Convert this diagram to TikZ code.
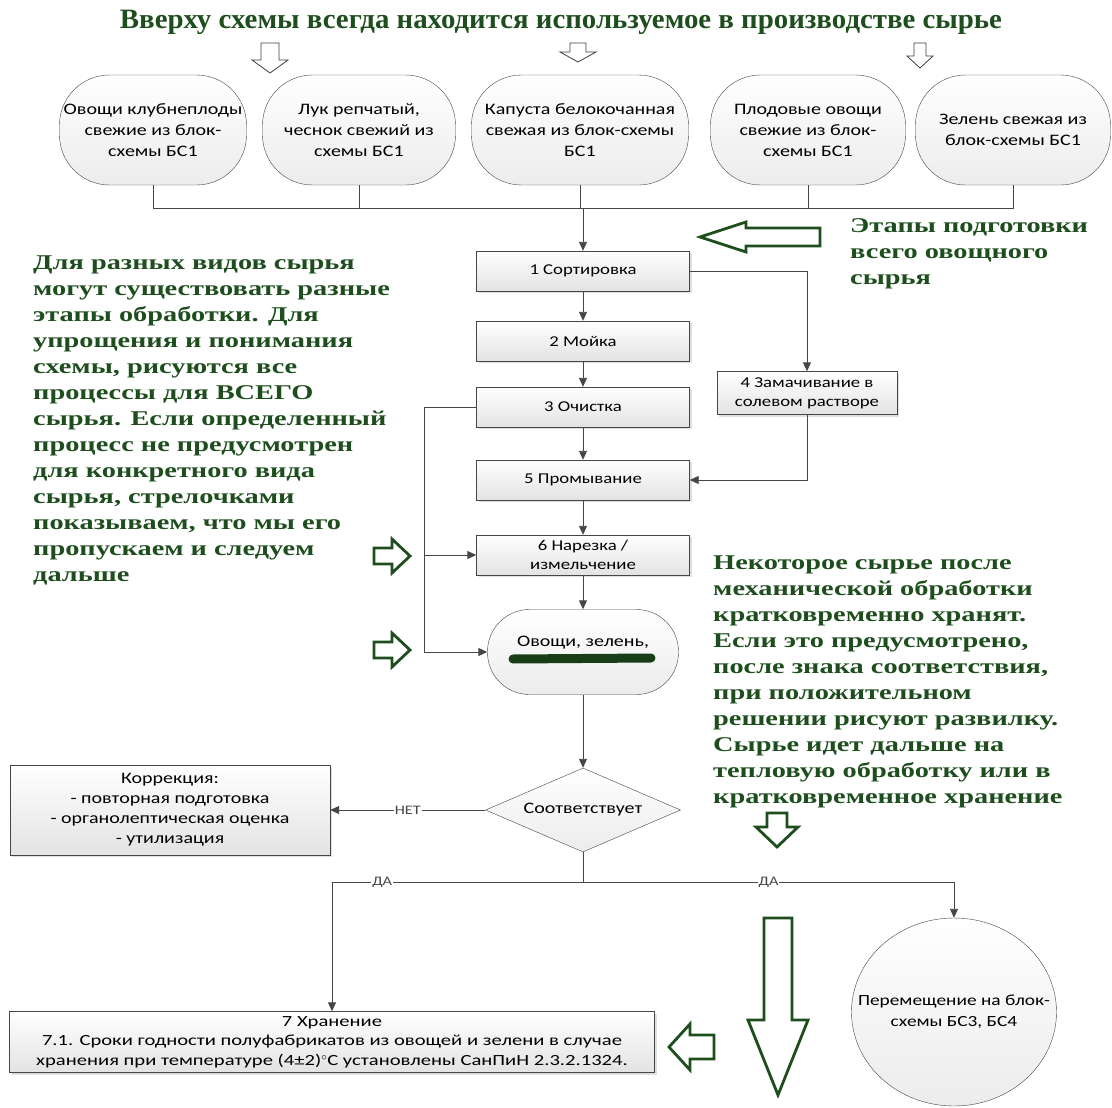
\documentclass[tikz,border=0pt]{standalone}
\usepackage{fontspec}
\usetikzlibrary{shapes.geometric,arrows.meta,shadows}

\newfontfamily\boxfont{Carlito}[FakeStretch=1.25]
\newfontfamily\wideboxfont{Carlito}[FakeStretch=1.33]
\newfontfamily\notefont{Liberation Serif}[FakeStretch=1.35]
\newfontfamily\headfont{Liberation Serif}[FakeStretch=1.03]
\definecolor{notegreen}{RGB}{30,78,30}
\definecolor{linegray}{RGB}{70,70,70}

% hollow block arrows: style, centre, tail, head start, tip, half shaft, half head
\newcommand{\vhollow}[7]{\draw[#1] ({#2-#6},#3) -- ({#2+#6},#3) -- ({#2+#6},#4) -- ({#2+#7},#4) -- (#2,#5) -- ({#2-#7},#4) -- ({#2-#6},#4) -- cycle;}
\newcommand{\hhollow}[7]{\draw[#1] (#3,{#2-#6}) -- (#4,{#2-#6}) -- (#4,{#2-#7}) -- (#5,#2) -- (#4,{#2+#7}) -- (#4,{#2+#6}) -- (#3,{#2+#6}) -- cycle;}

\begin{document}
\begin{tikzpicture}[x=1pt,y=-1pt,
  raw_node/.style={rectangle,rounded corners=50pt,draw=linegray,top color=white,bottom color=gray!15,minimum height=110pt,align=center,inner sep=1pt,font=\boxfont\fontsize{16}{21}\selectfont},
  proc_node/.style={rectangle,draw=linegray,top color=white,bottom color=gray!22,minimum width=213pt,minimum height=40pt,align=center,inner sep=2pt,drop shadow={opacity=0.25,shadow xshift=2pt,shadow yshift=-2pt},font=\boxfont\fontsize{15}{19}\selectfont},
  check_node/.style={diamond,aspect=2.3,draw=linegray,top color=white,bottom color=gray!15,minimum width=195pt,minimum height=84pt,inner sep=0pt,font=\boxfont\fontsize{16}{19}\selectfont},
  end_node/.style={ellipse,draw=linegray,top color=white,bottom color=gray!15,minimum width=205pt,minimum height=188pt,inner sep=0pt},
  note_text/.style={anchor=north west,align=left,inner sep=0pt,text=notegreen,font=\notefont\bfseries\fontsize{21}{26}\selectfont},
  flow/.style={draw=linegray,line width=0.9pt,-{Triangle[length=9pt,width=8pt]}},
  wire/.style={draw=linegray,line width=0.9pt},
  lbl/.style={fill=white,inner sep=1pt,text=linegray,font=\boxfont\fontsize{13}{13}\selectfont},
  gray_arrow/.style={draw=black!75,fill=white,line width=0.8pt},
  green_arrow/.style={draw=notegreen,fill=white,line width=2.8pt,line join=miter}]

  \useasboundingbox[fill=white] (0,0) rectangle (1112,1108);

  % heading
  \node[anchor=base,inner sep=0pt,text=notegreen,font=\headfont\bfseries\fontsize{28}{28}\selectfont] (head) at (561,29)
    {Вверху схемы всегда находится используемое в производстве сырье};
  \vhollow{gray_arrow}{270}{43}{60}{73}{9}{18}
  \vhollow{gray_arrow}{578}{43}{52}{62}{8}{18}
  \vhollow{gray_arrow}{920}{43}{56}{68}{6}{13}

  % raw material
  \node[raw_node,minimum width=187pt] (r1) at (153,130) {Овощи клубнеплоды\\свежие из блок-\\схемы БС1};
  \node[raw_node,minimum width=193pt] (r2) at (359,130) {Лук репчатый,\\чеснок свежий из\\схемы БС1};
  \node[raw_node,minimum width=217pt] (r3) at (580,130) {Капуста белокочанная\\свежая из блок-схемы\\БС1};
  \node[raw_node,minimum width=195pt] (r4) at (808,130) {Плодовые овощи\\свежие из блок-\\схемы БС1};
  \node[raw_node,minimum width=195pt] (r5) at (1013,130) {Зелень свежая из\\блок-схемы БС1};
  \coordinate (bus) at (583,208);

  % processing steps
  \node[proc_node] (p1) at (583,271) {1 Сортировка};
  \node[proc_node] (p2) at (583,341) {2 Мойка};
  \node[proc_node] (p3) at (583,407) {3 Очистка};
  \node[proc_node,minimum width=180pt,minimum height=43pt] (p4) at (807,393) {4 Замачивание в\\солевом растворе};
  \node[proc_node] (p5) at (583,480) {5 Промывание};
  \node[proc_node] (p6) at (583,555) {6 Нарезка /\\измельчение};
  \node[raw_node,minimum width=191pt,minimum height=85pt,rounded corners=42pt] (veg) at (583,652) {Овощи, зелень,\\\rule{0pt}{14pt}};
  \draw[notegreen!80!black,line width=9pt,line cap=round] ([shift={(-70,7)}]veg.center) -- ([shift={(68,6)}]veg.center);

  % check and branches
  \node[check_node] (chk) at (583,810) {Соответствует};
  \node[proc_node,minimum width=320pt,minimum height=90pt,font=\boxfont\fontsize{16}{20}\selectfont] (fix) at (170,810)
    {Коррекция:\\- повторная подготовка\\- органолептическая оценка\\- утилизация};
  \node[proc_node,minimum width=645pt,minimum height=61pt,inner sep=0pt,font=\wideboxfont\fontsize{15.5}{19.5}\selectfont] (p7) at (332,1042)
    {7 Хранение\\7.1. Сроки годности полуфабрикатов из овощей и зелени в случае\\хранения при температуре (4±2)$^{\circ}$С установлены СанПиН 2.3.2.1324.};
  \node[end_node,label={[align=center,font=\boxfont\fontsize{15.5}{21}\selectfont]center:Перемещение на блок-\\схемы БС3, БС4}] (move) at (954,1012) {};

  % connectors
  \foreach \n in {r1,r2,r4,r5}
    \draw[wire] (\n.south) |- (bus);
  \draw[wire] (r3.south) |- (bus);
  \draw[flow] (bus) -- (p1.north);
  \draw[flow] (p1.south) -- (p2.north);
  \draw[flow] (p2.south) -- (p3.north);
  \draw[flow] (p3.south) -- (p5.north);
  \draw[flow] (p5.south) -- (p6.north);
  \draw[flow] (p6.south) -- (veg.north);
  \draw[flow] (p1.east) -| (p4.north);
  \draw[flow] (p4.south) |- (p5.east);
  \draw[wire] (p3.west) -- ++(-52,0) coordinate (skip);
  \draw[flow] (skip) |- (veg.west);
  \draw[flow] (skip |- p6.west) -- (p6.west);
  \draw[flow] (veg.south) -- (chk.north);
  \draw[flow] (chk.west) -- node[lbl] {НЕТ} (fix.east);
  \draw[wire] (chk.south) -- ++(0,30) coordinate (fork);
  \draw[flow] (fork) -| node[lbl,pos=0.4] {ДА} (p7.north);
  \draw[flow] (fork) -| node[lbl,pos=0.25] {ДА} (move.north);

  % notes
  \node[note_text] (stages) at (850,218) {Этапы подготовки\\всего овощного\\сырья};
  \hhollow{green_arrow}{237}{820}{746}{700}{9}{15}
  \node[note_text] (leftnote) at (33,256) {Для разных видов сырья\\могут существовать разные\\этапы обработки. Для\\упрощения и понимания\\схемы, рисуются все\\процессы для ВСЕГО\\сырья. Если определенный\\процесс не предусмотрен\\для конкретного вида\\сырья, стрелочками\\показываем, что мы его\\пропускаем и следуем\\дальше};
  \hhollow{green_arrow}{556}{374}{392}{410}{8}{17}
  \hhollow{green_arrow}{650}{374}{392}{410}{8}{17}
  \node[note_text] (rightnote) at (713,556) {Некоторое сырье после\\механической обработки\\кратковременно хранят.\\Если это предусмотрено,\\после знака соответствия,\\при положительном\\решении рисуют развилку.\\Сырье идет дальше на\\тепловую обработку или в\\кратковременное хранение};
  \vhollow{green_arrow}{777}{813}{827}{847}{10}{21}
  \vhollow{green_arrow}{778}{918}{1020}{1095}{14}{30}
  \hhollow{green_arrow}{1047}{714}{690}{669}{12}{23}
\end{tikzpicture}
\end{document}
